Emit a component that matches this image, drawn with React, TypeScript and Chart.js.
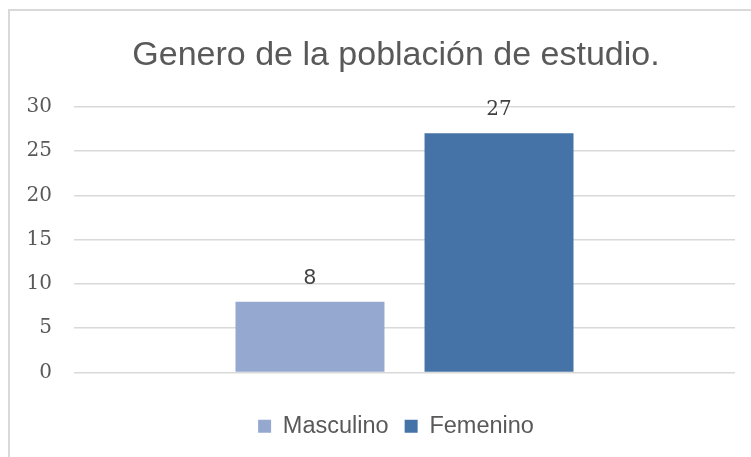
import React, { useEffect, useRef } from "react";
import { Chart, registerables } from "chart.js";

Chart.register(...registerables);

const chartTitle = "Genero de la población de estudio.";
const categories = [""];
const seriesNames = ["Masculino", "Femenino"];
const masculinoValues = [8];
const femeninoValues = [27];
const yMin = 0;
const yMax = 30;
const yStep = 5;

const seriesColors = ["#95A9D0", "#4573A7"];
const labelFonts = ['22px "Liberation Sans"', '20px "DejaVu Serif"'];

const dataLabelPlugin = {
  id: "dataLabels",
  afterDatasetsDraw(chart: any) {
    const ctx = chart.ctx;
    ctx.save();
    ctx.fillStyle = "#404040";
    ctx.textAlign = "center";
    ctx.textBaseline = "middle";
    chart.data.datasets.forEach((ds: any, i: number) => {
      const meta = chart.getDatasetMeta(i);
      ctx.font = labelFonts[i] || labelFonts[0];
      meta.data.forEach((bar: any, j: number) => {
        ctx.fillText(String(ds.data[j]), bar.x, bar.y - 24);
      });
    });
    ctx.restore();
  },
};

export default function App() {
  const canvasRef = useRef<HTMLCanvasElement | null>(null);

  useEffect(() => {
    if (!canvasRef.current) return;
    const chart = new Chart(canvasRef.current, {
      type: "bar",
      data: {
        labels: categories,
        datasets: [
          {
            label: seriesNames[0],
            data: masculinoValues,
            backgroundColor: seriesColors[0],
            categoryPercentage: 0.572,
            barPercentage: 0.788,
          },
          {
            label: seriesNames[1],
            data: femeninoValues,
            backgroundColor: seriesColors[1],
            categoryPercentage: 0.572,
            barPercentage: 0.788,
          },
        ],
      },
      options: {
        responsive: false,
        animation: false,
        devicePixelRatio: 1,
        layout: { padding: { left: 8, right: 0, top: 0, bottom: 9 } },
        plugins: {
          title: {
            display: true,
            text: chartTitle,
            color: "#595959",
            font: { family: "Liberation Sans", size: 34, weight: "normal" },
            padding: { top: 35, bottom: 31 },
          },
          legend: {
            display: true,
            position: "bottom",
            labels: {
              boxWidth: 13,
              boxHeight: 13,
              padding: 16,
              color: "#595959",
              font: { family: "Liberation Sans", size: 23.5 },
            },
          },
          tooltip: { enabled: false },
        },
        scales: {
          x: {
            type: "category",
            grid: { display: false },
            border: { display: false },
            ticks: { display: false },
            afterFit(scale: any) {
              scale.height = 26;
            },
          },
          y: {
            type: "linear",
            position: "left",
            min: yMin,
            max: yMax,
            ticks: {
              stepSize: yStep,
              padding: 22,
              color: "#595959",
              font: { family: "DejaVu Serif", size: 20 },
            },
            grid: { color: "#D9D9D9", lineWidth: 1.5, drawTicks: false },
            border: { display: false },
            afterFit(scale: any) {
              scale.width = 66;
            },
          },
          y2: {
            type: "linear",
            axis: "y",
            position: "right",
            grid: { display: false },
            border: { display: false },
            ticks: { display: false },
            afterFit(scale: any) {
              scale.width = 49;
            },
          },
        },
      } as any,
      plugins: [dataLabelPlugin],
    });
    return () => chart.destroy();
  }, []);

  return (
    <div
      style={{
        position: "fixed",
        left: 0,
        top: 0,
        width: 751,
        height: 457,
        overflow: "hidden",
        background: "#ffffff",
      }}
    >
      <div
        style={{
          position: "absolute",
          left: 8,
          top: 9,
          width: 800,
          height: 500,
          borderLeft: "2px solid #D9D9D9",
          borderTop: "2px solid #D9D9D9",
        }}
      />
      <canvas
        ref={canvasRef}
        width={784}
        height={457}
        style={{ position: "absolute", left: 0, top: 0, width: 784, height: 457 }}
      />
    </div>
  );
}
